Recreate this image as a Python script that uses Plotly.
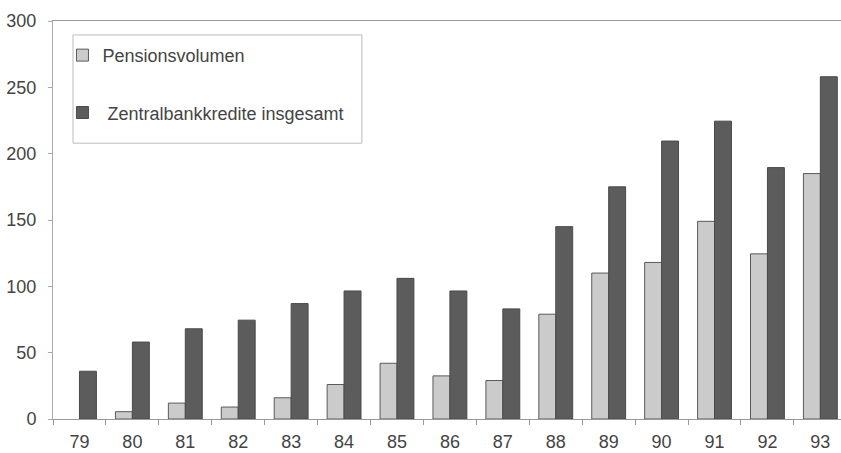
import plotly.graph_objects as go

years = ["79", "80", "81", "82", "83", "84", "85", "86", "87", "88", "89", "90", "91", "92", "93"]
pension = [None, 5.5, 12, 9, 16, 26, 42, 32.5, 29, 79, 110, 118, 149, 124.5, 185]
zentral = [36, 58, 68, 74.5, 87, 96.5, 106, 96.5, 83, 145, 175, 209.5, 224.5, 189.5, 258]

fig = go.Figure()
fig.add_trace(go.Bar(
    x=years, y=pension, name="Pensionsvolumen",
    marker=dict(color="#cbcbcb", line=dict(color="#5a5a5a", width=1)),
    legendgroup="a",
))
fig.add_trace(go.Bar(
    x=years, y=zentral, name=" Zentralbankkredite insgesamt",
    marker=dict(color="#5c5c5c", line=dict(color="#4a4a4a", width=1)),
    legendgroup="b",
))

fig.update_layout(
    template="none",
    width=841, height=453,
    margin=dict(l=53, r=0, t=21, b=34, pad=0),
    paper_bgcolor="white", plot_bgcolor="white",
    barmode="group", bargap=0.36, bargroupgap=0,
    font=dict(family="Liberation Sans, Arial", size=18, color="#444444"),
    showlegend=True,
    legend=dict(
        x=0.012, y=0.96, xanchor="left", yanchor="top",
        borderwidth=0, bgcolor="rgba(0,0,0,0)",
        font=dict(size=18, color="#444444"),
        tracegroupgap=31, itemwidth=30,
    ),
    shapes=[dict(
        type="rect", xref="paper", yref="paper",
        x0=0.0254, x1=0.392, y0=0.693, y1=0.965,
        line=dict(color="#bbbbbb", width=1), fillcolor="rgba(0,0,0,0)",
        layer="below",
    )],
    xaxis=dict(
        type="category", range=[-0.5, 14.39], automargin=False,
        showline=True, linecolor="#999999", linewidth=1, mirror=True,
        ticks="outside", ticklen=5, tickcolor="#999999", tickson="boundaries",
        ticklabelstandoff=6,
        showgrid=False, tickfont=dict(size=18, color="#444444"),
    ),
    yaxis=dict(
        range=[0, 300], tickvals=[0, 50, 100, 150, 200, 250, 300], automargin=False,
        showline=True, linecolor="#aaaaaa", linewidth=1,
        ticks="outside", ticklen=4, tickcolor="#aaaaaa",
        ticklabelstandoff=8,
        showgrid=False, zeroline=False,
        tickfont=dict(size=18, color="#444444"),
    ),
)

fig.write_html("out.html", config={"displayModeBar": False},
               post_script="document.body.style.margin='0';")
